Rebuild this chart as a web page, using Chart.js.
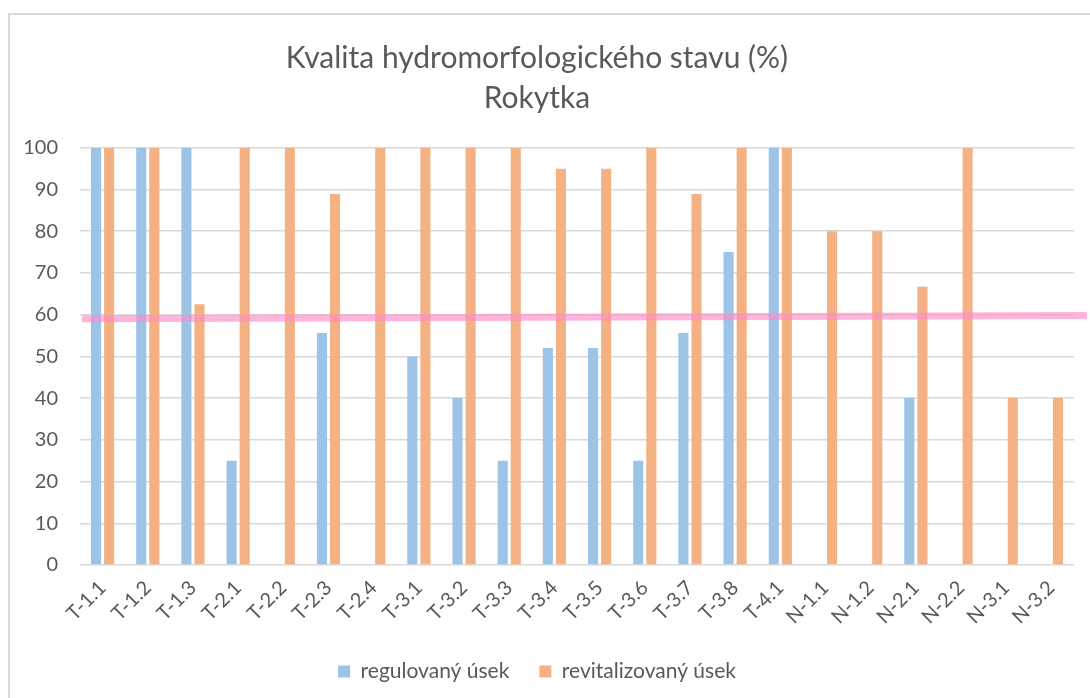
<!DOCTYPE html>
<html>
<head>
<meta charset="utf-8">
<script src="https://cdn.jsdelivr.net/npm/chart.js@4/dist/chart.umd.min.js"></script>
<style>
  html, body { margin: 0; padding: 0; background: #fff; overflow: hidden; }
  #frame { position: absolute; left: 8px; top: 13px; width: 1200px; height: 800px; border: 2px solid #d9d9d9; }
  #wrap { position: absolute; left: 0; top: 0; width: 1090px; height: 698px; }
</style>
</head>
<body>
<div id="frame"></div>
<div id="wrap"><canvas id="chart"></canvas></div>
<script>
// úseky toku Rokytka
const categories = ["T-1.1", "T-1.2", "T-1.3", "T-2.1", "T-2.2", "T-2.3", "T-2.4", "T-3.1", "T-3.2", "T-3.3", "T-3.4",
  "T-3.5", "T-3.6", "T-3.7", "T-3.8", "T-4.1", "N-1.1", "N-1.2", "N-2.1", "N-2.2", "N-3.1", "N-3.2"];
const regulovany = [100, 100, 100, 25, null, 55.6, null, 50, 40, 25, 52, 52, 25, 55.6, 75, 100, null, null, 40, null, null, null];
const revitalizovany = [100, 100, 62.5, 100, 100, 88.9, 100, 100, 100, 100, 95, 95, 100, 88.9, 100, 100, 80, 80, 66.7, 100, 40, 40];
const titleLines = ["Kvalita hydromorfologického stavu (%)", "Rokytka"];
// růžová hraniční čára (hodnota vlevo a vpravo)
const limitLine = [59, 59.8];

const textColor = "#595959";
const fontFamily = "Lato, 'Open Sans', sans-serif";

const limitPlugin = {
  id: "limitLine",
  afterDatasetsDraw(chart) {
    const ctx = chart.ctx;
    const y = chart.scales.y;
    const area = chart.chartArea;
    ctx.save();
    ctx.strokeStyle = "rgba(255, 140, 200, 0.65)";
    ctx.lineWidth = 7;
    ctx.beginPath();
    ctx.moveTo(area.left + 2, y.getPixelForValue(limitLine[0]));
    ctx.lineTo(area.right + 13, y.getPixelForValue(limitLine[1]));
    ctx.stroke();
    ctx.restore();
  }
};

new Chart(document.getElementById("chart"), {
  type: "bar",
  data: {
    labels: categories,
    datasets: [
      { label: "regulovaný úsek", data: regulovany, backgroundColor: "#9dc3e6" },
      { label: "revitalizovaný úsek", data: revitalizovany, backgroundColor: "#f4b183" }
    ]
  },
  options: {
    responsive: true,
    maintainAspectRatio: false,
    animation: false,
    datasets: { bar: { categoryPercentage: 0.58, barPercentage: 0.77 } },
    layout: { padding: { left: 0, right: 16, top: 38, bottom: 6 } },
    plugins: {
      title: {
        display: true,
        text: titleLines,
        color: textColor,
        font: { family: fontFamily, size: 30, weight: "normal", lineHeight: 1.33 },
        padding: { top: 0, bottom: 30 }
      },
      legend: {
        position: "bottom",
        labels: {
          color: textColor,
          font: { family: fontFamily, size: 21 },
          boxWidth: 12,
          boxHeight: 12,
          padding: 30
        }
      },
      tooltip: { enabled: false }
    },
    scales: {
      x: {
        grid: { display: false },
        border: { display: false },
        ticks: {
          color: textColor,
          font: { family: fontFamily, size: 20 },
          minRotation: 45,
          maxRotation: 45,
          autoSkip: false
        },
        afterFit(scale) { scale.height = 66; }
      },
      y: {
        min: 0,
        max: 100,
        grid: { color: "#d9d9d9", lineWidth: 1.5, drawTicks: false },
        border: { display: false },
        ticks: {
          stepSize: 10,
          color: textColor,
          font: { family: fontFamily, size: 20 },
          padding: 22
        },
        afterFit(scale) { scale.width = 80; }
      }
    }
  },
  plugins: [limitPlugin]
});
</script>
</body>
</html>
